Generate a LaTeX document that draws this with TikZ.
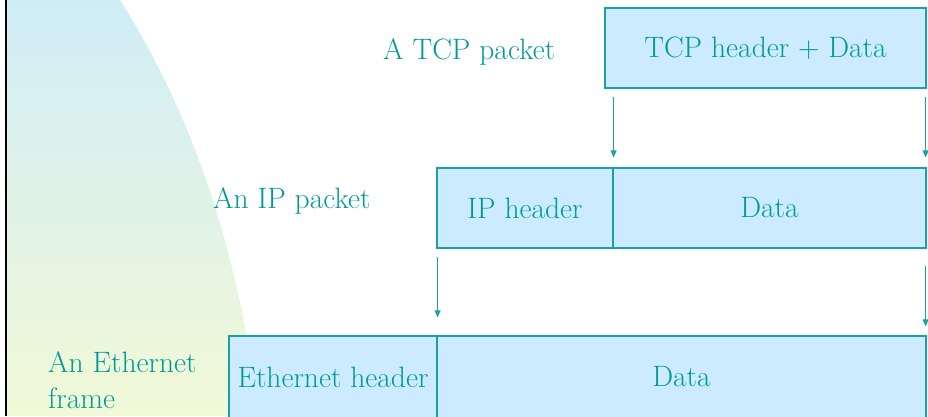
\documentclass[tikz,border=0pt]{standalone}
\usetikzlibrary{arrows.meta,calc}
\definecolor{ink}{RGB}{0,153,153}
\definecolor{cell}{RGB}{204,235,255}
\definecolor{edge}{RGB}{30,160,160}
\definecolor{shadetop}{RGB}{208,237,247}
\definecolor{shadebot}{RGB}{241,249,214}
\begin{document}
\begin{tikzpicture}[x=1pt,y=-1pt,
  field/.style={draw=edge,fill=cell,line width=1.2pt,inner sep=0pt,
    minimum height=80pt,text=ink,font=\fontsize{29.5}{36}\selectfont},
  tag/.style={text=ink,font=\fontsize{29.5}{36}\selectfont,inner sep=0pt,align=left},
  link/.style={draw=edge,line width=1pt,-{Triangle[length=7pt,width=6pt]}}]
\useasboundingbox (0,0) rectangle (928,416);

% shaded backdrop on the left
\shade[top color=shadetop,bottom color=shadebot]
  (6,0) -- (120,0) .. controls (190,110) and (240,250) .. (258,416) -- (6,416) -- cycle;
\draw[line width=2pt] (6,0) -- (6,416);

% packet fields
\node[field,minimum width=321pt] (tcp) at (765.5,48) {TCP header + Data};
\node[field,minimum width=176pt] (iphdr) at (525,208) {IP header};
\node[field,minimum width=313pt] (ipdata) at (769.5,208) {Data};
\node[field,minimum width=208pt,minimum height=82pt] (ethhdr) at (333,377) {Ethernet header};
\node[field,minimum width=489pt,minimum height=82pt] (ethdata) at (681.5,377) {Data};

% captions
\node[tag,anchor=base west] (tcplbl) at (383,59) {A TCP packet};
\node[tag,anchor=base west] (iplbl) at (213,208) {An IP packet};
\node[tag,anchor=base west] (ethlbl) at (48,408) {An Ethernet\\frame};

% encapsulation arrows
\coordinate (a1s) at ($(iphdr.north east |- tcp.south)+(0,8.5)$);
\coordinate (a1e) at ($(iphdr.north east)+(0,-10)$);
\coordinate (a2s) at ($(ipdata.north east |- tcp.south)+(-1,8.5)$);
\coordinate (a2e) at ($(ipdata.north east)+(-1,-10)$);
\coordinate (b1s) at ($(ethhdr.north east |- iphdr.south)+(0,8)$);
\coordinate (b1e) at ($(ethhdr.north east)+(0,-18)$);
\coordinate (b2s) at ($(ethdata.north east |- ipdata.south)+(-1,17)$);
\coordinate (b2e) at ($(ethdata.north east)+(-1,-9)$);
\draw[link] (a1s) -- (a1e);
\draw[link] (a2s) -- (a2e);
\draw[link] (b1s) -- (b1e);
\draw[link] (b2s) -- (b2e);
\end{tikzpicture}
\end{document}
